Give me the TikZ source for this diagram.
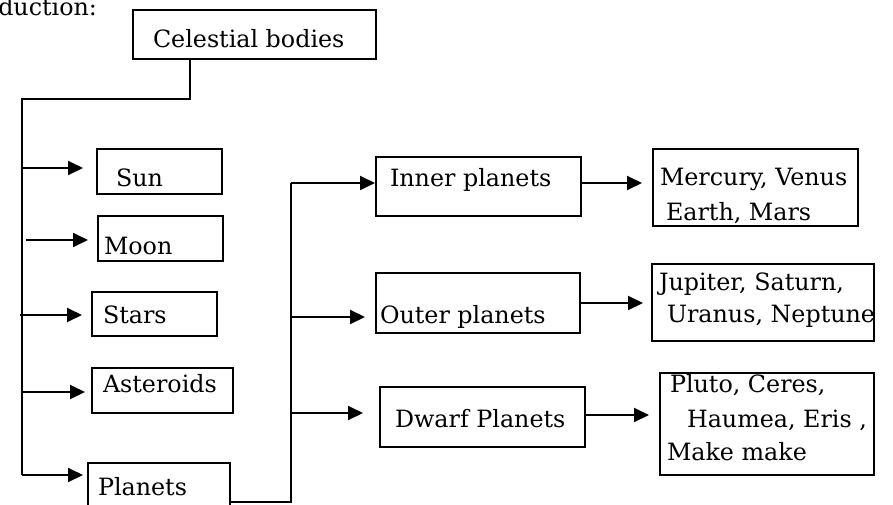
\documentclass[tikz,border=0pt]{standalone}
\usepackage{fontspec}
\setmainfont{DejaVu Serif}
\usetikzlibrary{arrows.meta}
\begin{document}
\begin{tikzpicture}[x=1pt,y=-1pt,
  box/.style 2 args={draw, line width=1.9pt, inner sep=0pt, outer sep=0pt,
    anchor=north west, minimum width=#1, minimum height=#2},
  txt/.style={anchor=base west, inner sep=0pt, outer sep=0pt,
    font=\fontsize{23.8}{28}\selectfont},
  line/.style={draw, line width=1.9pt},
  arr/.style={line, -{Triangle[length=15pt,width=14pt]}}]
\useasboundingbox (0,0) rectangle (893,504);
\clip (0,0) rectangle (893,504);

% header text
\node[txt, anchor=base east] (intro) at (97,15) {duction:};

% boxes
\node[box={243pt}{49pt}] (cel) at (133,10) {};
\node[box={125pt}{45pt}] (sun) at (97,149) {};
\node[box={125pt}{45pt}] (moon) at (98,216) {};
\node[box={125pt}{44pt}] (stars) at (92,292) {};
\node[box={141pt}{45pt}] (ast) at (92,368) {};
\node[box={142pt}{60pt}] (pla) at (88,463) {};
\node[box={205pt}{59pt}] (inner) at (376,157) {};
\node[box={204pt}{60pt}] (outer) at (376,273) {};
\node[box={205pt}{60pt}] (dwarf) at (380,387) {};
\node[box={205pt}{77pt}] (merc) at (653,149) {};
\node[box={222pt}{77pt}] (jup) at (652,264) {};
\node[box={214pt}{102pt}] (plu) at (660,373) {};

% texts
\node[txt] (tcel) at (153,47) {Celestial bodies};
\node[txt] (tsun) at (116,186) {Sun};
\node[txt] (tmoon) at (104,254) {Moon};
\node[txt] (tstars) at (103,323) {Stars};
\node[txt] (tast) at (103,392) {Asteroids};
\node[txt] (tpla) at (98,495) {Planets};
\node[txt] (tinner) at (390,186) {Inner planets};
\node[txt] (touter) at (380,323) {Outer planets};
\node[txt] (tdwarf) at (395,427) {Dwarf Planets};
\node[txt] (tmerc1) at (660,185) {Mercury, Venus};
\node[txt] (tmerc2) at (666,220) {Earth, Mars};
\node[txt] (tjup1) at (659,290) {Jupiter, Saturn,};
\node[txt] (tjup2) at (667,322) {Uranus, Neptune};
\node[txt] (tplu1) at (670,392) {Pluto, Ceres,};
\node[txt] (tplu2) at (687,427) {Haumea, Eris ,};
\node[txt] (tplu3) at (667,460) {Make make};

% trunk from Celestial bodies
\coordinate (celOut) at (190,59);
\coordinate (elbow) at (190,99);
\coordinate (trTop) at (22,99);
\coordinate (trBot) at (22,475);
\draw[line] (celOut) -- (elbow) -- (trTop) -- (trBot);

% first level arrows
\coordinate (aSun) at (22,168);
\coordinate (aMoon) at (26,240);
\coordinate (aStars) at (20,315);
\coordinate (aAst) at (22,392);
\draw[arr, shorten >=14pt] (aSun) -- (aSun -| sun.west);
\draw[arr, shorten >=10pt] (aMoon) -- (aMoon -| moon.west);
\draw[arr, shorten >=10pt] (aStars) -- (aStars -| stars.west);
\draw[arr, shorten >=7pt] (aAst) -- (aAst -| ast.west);
\draw[arr, shorten >=5pt] (trBot) -- (trBot -| pla.west);

% planets branch
\coordinate (pB) at (291,502);
\coordinate (pT) at (291,183);
\coordinate (pO) at (291,317);
\coordinate (pD) at (291,413);
\draw[line] (pla.east |- pB) -- (pB) -- (pT);
\draw[arr, shorten >=1pt] (pT) -- (pT -| inner.west);
\draw[arr, shorten >=11pt] (pO) -- (pO -| outer.west);
\draw[arr, shorten >=17pt] (pD) -- (pD -| dwarf.west);

% second level arrows
\coordinate (qI) at (581,183);
\coordinate (qO) at (580,303);
\coordinate (qD) at (585,415);
\draw[arr, shorten >=11pt] (qI) -- (qI -| merc.west);
\draw[arr, shorten >=9pt] (qO) -- (qO -| jup.west);
\draw[arr, shorten >=11pt] (qD) -- (qD -| plu.west);
\end{tikzpicture}
\end{document}
